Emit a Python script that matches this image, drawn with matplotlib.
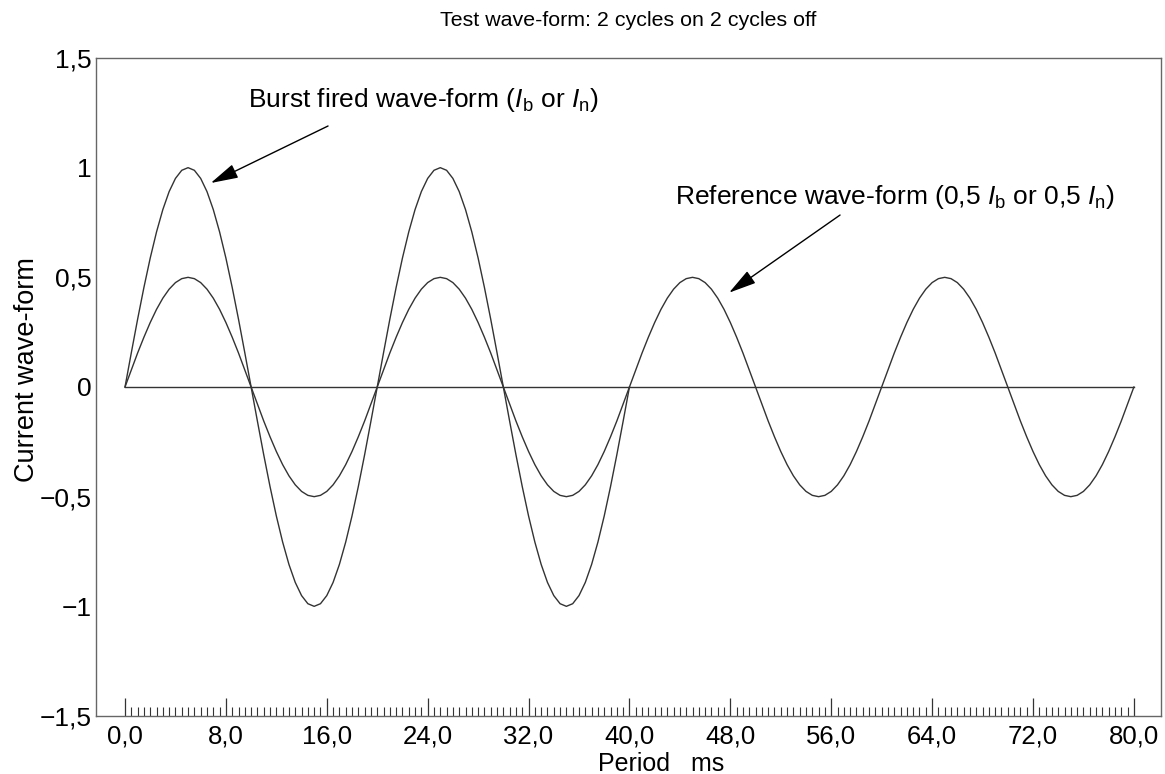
import matplotlib
matplotlib.use("Agg")
import matplotlib.pyplot as plt
import numpy as np

plt.rcParams['font.family'] = ['Liberation Sans', 'DejaVu Sans']
plt.rcParams['mathtext.fontset'] = 'custom'
plt.rcParams['mathtext.rm'] = 'Liberation Sans'
plt.rcParams['mathtext.it'] = 'Liberation Sans:italic'

# ---- data, time step 0.5 ms ----
time_step_ms = 0.5
burst_fired = [
    0.000, 0.156, 0.309, 0.454, 0.588, 0.707, 0.809, 0.891, 0.951, 0.988,
    1.000, 0.988, 0.951, 0.891, 0.809, 0.707, 0.588, 0.454, 0.309, 0.156,
    0.000, -0.156, -0.309, -0.454, -0.588, -0.707, -0.809, -0.891, -0.951, -0.988,
    -1.000, -0.988, -0.951, -0.891, -0.809, -0.707, -0.588, -0.454, -0.309, -0.156,
    0.000, 0.156, 0.309, 0.454, 0.588, 0.707, 0.809, 0.891, 0.951, 0.988,
    1.000, 0.988, 0.951, 0.891, 0.809, 0.707, 0.588, 0.454, 0.309, 0.156,
    0.000, -0.156, -0.309, -0.454, -0.588, -0.707, -0.809, -0.891, -0.951, -0.988,
    -1.000, -0.988, -0.951, -0.891, -0.809, -0.707, -0.588, -0.454, -0.309, -0.156,
    0.000,
]
reference = [
    0.000, 0.078, 0.155, 0.227, 0.294, 0.354, 0.405, 0.446, 0.476, 0.494,
    0.500, 0.494, 0.476, 0.446, 0.405, 0.354, 0.294, 0.227, 0.155, 0.078,
    0.000, -0.078, -0.155, -0.227, -0.294, -0.354, -0.405, -0.446, -0.476, -0.494,
    -0.500, -0.494, -0.476, -0.446, -0.405, -0.354, -0.294, -0.227, -0.155, -0.078,
    0.000, 0.078, 0.155, 0.227, 0.294, 0.354, 0.405, 0.446, 0.476, 0.494,
    0.500, 0.494, 0.476, 0.446, 0.405, 0.354, 0.294, 0.227, 0.155, 0.078,
    0.000, -0.078, -0.155, -0.227, -0.294, -0.354, -0.405, -0.446, -0.476, -0.494,
    -0.500, -0.494, -0.476, -0.446, -0.405, -0.354, -0.294, -0.227, -0.155, -0.078,
    0.000, 0.078, 0.155, 0.227, 0.294, 0.354, 0.405, 0.446, 0.476, 0.494,
    0.500, 0.494, 0.476, 0.446, 0.405, 0.354, 0.294, 0.227, 0.155, 0.078,
    0.000, -0.078, -0.155, -0.227, -0.294, -0.354, -0.405, -0.446, -0.476, -0.494,
    -0.500, -0.494, -0.476, -0.446, -0.405, -0.354, -0.294, -0.227, -0.155, -0.078,
    0.000, 0.078, 0.155, 0.227, 0.294, 0.354, 0.405, 0.446, 0.476, 0.494,
    0.500, 0.494, 0.476, 0.446, 0.405, 0.354, 0.294, 0.227, 0.155, 0.078,
    0.000, -0.078, -0.155, -0.227, -0.294, -0.354, -0.405, -0.446, -0.476, -0.494,
    -0.500, -0.494, -0.476, -0.446, -0.405, -0.354, -0.294, -0.227, -0.155, -0.078,
    0.000,
]
baseline_t = [0.0, 80.0]
baseline_v = [0.0, 0.0]

x_ticks = [0, 8, 16, 24, 32, 40, 48, 56, 64, 72, 80]
x_tick_labels = ["0,0", "8,0", "16,0", "24,0", "32,0", "40,0", "48,0",
                 "56,0", "64,0", "72,0", "80,0"]
y_ticks = [1.5, 1, 0.5, 0, -0.5, -1, -1.5]
y_tick_labels = ["1,5", "1", "0,5", "0", "\u22120,5", "\u22121", "\u22121,5"]

t_burst = np.arange(len(burst_fired)) * time_step_ms
t_ref = np.arange(len(reference)) * time_step_ms

fig = plt.figure(figsize=(11.65, 7.74), dpi=100)
ax = fig.add_axes([96/1165, (774-716)/774, (1161-96)/1165, (716-58)/774])

lc = '#333333'
ax.plot(baseline_t, baseline_v, color=lc, lw=1.0)
ax.plot(t_ref, reference, color=lc, lw=1.0)
ax.plot(t_burst, burst_fired, color=lc, lw=1.0)

ax.set_xlim(-2.3, 82.15)
ax.set_ylim(-1.5, 1.5)

ax.set_xticks(x_ticks)
ax.set_xticklabels(x_tick_labels, fontsize=18.5)
ax.set_xticks(np.arange(0, 80.01, 0.5), minor=True)
ax.tick_params(axis='x', which='major', direction='in', length=13, width=0.9,
               color='#333333', pad=6)
ax.tick_params(axis='x', which='minor', direction='in', length=6.5, width=0.8,
               color='#333333')
ax.set_yticks(y_ticks)
ax.set_yticklabels(y_tick_labels, fontsize=19)
ax.tick_params(axis='y', length=0, pad=3)

for s in ax.spines.values():
    s.set_color('#666666')
    s.set_linewidth(1.0)

ax.set_title("Test wave-form: 2 cycles on 2 cycles off", fontsize=15.4, pad=23)
ax.set_ylabel("Current wave-form", fontsize=19.5)
ax.yaxis.set_label_coords(-0.053, 0.527)
ax.set_xlabel("Period   ms", fontsize=18, va='baseline')
ax.xaxis.set_label_coords(0.531, -0.0836)

arrow = dict(arrowstyle='-|>,head_length=1.7,head_width=0.45', color='black',
             lw=1.0, shrinkA=0, shrinkB=0)
ax.annotate(r"Burst fired wave-form ($\mathit{I}_\mathrm{b}$ or $\mathit{I}_\mathrm{n}$)",
            xy=(6.8, 0.93), xytext=(9.75, 1.31), fontsize=19, va='center', ha='left',
            annotation_clip=False)
ax.annotate("", xy=(6.8, 0.93), xytext=(16.1, 1.19), arrowprops=arrow)
ax.annotate(r"Reference wave-form (0,5 $\mathit{I}_\mathrm{b}$ or 0,5 $\mathit{I}_\mathrm{n}$)",
            xy=(47.9, 0.43), xytext=(43.6, 0.866), fontsize=19, va='center', ha='left')
ax.annotate("", xy=(47.9, 0.43), xytext=(56.7, 0.784), arrowprops=arrow)

fig.savefig("out.png", dpi=100)
